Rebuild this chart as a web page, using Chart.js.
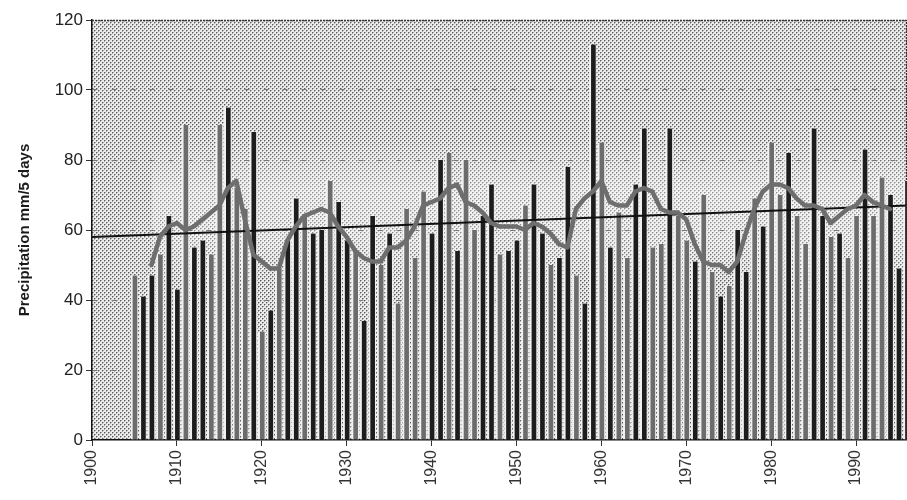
<!DOCTYPE html>
<html>
<head>
<meta charset="utf-8">
<script src="https://cdn.jsdelivr.net/npm/chart.js@4/dist/chart.umd.min.js"></script>
<style>
  html, body { margin: 0; padding: 0; background: #ffffff; }
  #wrap { width: 907px; height: 500px; }
</style>
</head>
<body>
<div id="wrap"><canvas id="chart" width="907" height="500"></canvas></div>
<script>
// Annual maximum 5-day precipitation (mm), one bar per year
const years = [
  1905, 1906, 1907, 1908, 1909, 1910, 1911, 1912, 1913, 1914,
  1915, 1916, 1917, 1918, 1919, 1920, 1921, 1922, 1923, 1924,
  1925, 1926, 1927, 1928, 1929, 1930, 1931, 1932, 1933, 1934,
  1935, 1936, 1937, 1938, 1939, 1940, 1941, 1942, 1943, 1944,
  1945, 1946, 1947, 1948, 1949, 1950, 1951, 1952, 1953, 1954,
  1955, 1956, 1957, 1958, 1959, 1960, 1961, 1962, 1963, 1964,
  1965, 1966, 1967, 1968, 1969, 1970, 1971, 1972, 1973, 1974,
  1975, 1976, 1977, 1978, 1979, 1980, 1981, 1982, 1983, 1984,
  1985, 1986, 1987, 1988, 1989, 1990, 1991, 1992, 1993, 1994,
  1995, 1996
];
const precip = [
  47, 41, 47, 53, 64, 43, 90, 55, 57, 53,
  90, 95, 72, 66, 88, 31, 37, 49, 57, 69,
  64, 59, 60, 74, 68, 57, 54, 34, 64, 50,
  59, 39, 66, 52, 71, 59, 80, 82, 54, 80,
  60, 64, 73, 53, 54, 57, 67, 73, 59, 50,
  52, 78, 47, 39, 113, 85, 55, 65, 52, 73,
  89, 55, 56, 89, 64, 57, 51, 70, 48, 41,
  44, 60, 48, 69, 61, 85, 70, 82, 64, 56,
  89, 64, 58, 59, 52, 64, 83, 64, 75, 70,
  49, 74
];

// Running mean of the annual maxima
const meanYears = [
  1907, 1908, 1909, 1910, 1911, 1912, 1913, 1914, 1915, 1916,
  1917, 1918, 1919, 1920, 1921, 1922, 1923, 1924, 1925, 1926,
  1927, 1928, 1929, 1930, 1931, 1932, 1933, 1934, 1935, 1936,
  1937, 1938, 1939, 1940, 1941, 1942, 1943, 1944, 1945, 1946,
  1947, 1948, 1949, 1950, 1951, 1952, 1953, 1954, 1955, 1956,
  1957, 1958, 1959, 1960, 1961, 1962, 1963, 1964, 1965, 1966,
  1967, 1968, 1969, 1970, 1971, 1972, 1973, 1974, 1975, 1976,
  1977, 1978, 1979, 1980, 1981, 1982, 1983, 1984, 1985, 1986,
  1987, 1988, 1989, 1990, 1991, 1992, 1993, 1994
];
const runningMean = [
  50, 58, 61, 62, 60, 61, 63, 65, 67, 72,
  74, 63, 53, 51, 49, 49, 57, 61, 64, 65,
  66, 65, 61, 58, 54, 52, 51, 51, 55, 55,
  57, 61, 67, 68, 69, 72, 73, 68, 67, 65,
  62, 61, 61, 61, 60, 62, 61, 59, 56, 55,
  66, 69, 71, 74, 68, 67, 67, 71, 72, 71,
  66, 65, 65, 63, 56, 51, 50, 50, 48, 51,
  59, 66, 71, 73, 73, 72, 69, 67, 67, 66,
  62, 64, 66, 67, 70, 68, 67, 66
];

// Linear trend, end points
const trendYears = [1900, 1996];
const trendValues = [58, 67];

// Axis ticks
const yTicks = [0, 20, 40, 60, 80, 100, 120];
const xTickYears = [1900, 1910, 1920, 1930, 1940, 1950, 1960, 1970, 1980, 1990];

// Print shade of each bar: k = black, g = grey
const barShades =
  'gkkgkkgkkg' + 'gkggkgkgkk' + 'gkkgkkgkkg' + 'kgggg' + 'kkgkg' +
  'gkkgkkgkkg' + 'kkgkkgkggk' + 'kggkgg' + 'kgg' + 'kgkkgkgg' +
  'kggkkgkggk' + 'gg';
const shadeColour = { k: '#1d1d1d', g: '#6c6c6c' };

const toPoints = (xs, ys) => xs.map((x, i) => ({ x: x, y: ys[i] }));

// Halftone-like dotted fill behind the plot
function makeStipple() {
  const t = document.createElement('canvas');
  t.width = 4; t.height = 4;
  const g = t.getContext('2d');
  g.fillStyle = '#ebebeb';
  g.fillRect(0, 0, 4, 4);
  g.fillStyle = '#a9a9a9';
  [[1, 0], [0, 1], [3, 2], [2, 3]].forEach(p => g.fillRect(p[0], p[1], 1, 1));
  g.fillStyle = '#5a5a5a';
  g.fillRect(0, 0, 1, 1);
  g.fillRect(2, 2, 1, 1);
  return t;
}

const plotBackground = {
  id: 'plotBackground',
  beforeDraw(chart) {
    const { ctx, chartArea: a } = chart;
    ctx.save();
    ctx.fillStyle = ctx.createPattern(makeStipple(), 'repeat');
    ctx.fillRect(a.left, a.top, a.right - a.left, a.bottom - a.top);
    // lighter band across the middle of the plot
    const gr = ctx.createLinearGradient(0, 140, 0, 280);
    gr.addColorStop(0, 'rgba(255,255,255,0)');
    gr.addColorStop(0.35, 'rgba(255,255,255,0.35)');
    gr.addColorStop(0.7, 'rgba(255,255,255,0.3)');
    gr.addColorStop(1, 'rgba(255,255,255,0)');
    ctx.fillStyle = gr;
    ctx.fillRect(a.left + 60, 140, a.right - a.left - 60, 140);
    ctx.restore();
  },
  afterDraw(chart) {
    const { ctx, chartArea: a } = chart;
    ctx.save();
    ctx.strokeStyle = '#333';
    ctx.lineWidth = 1.5;
    ctx.setLineDash([2, 1]);
    ctx.beginPath();
    ctx.moveTo(a.left, a.top + 0.5);
    ctx.lineTo(a.right - 0.5, a.top + 0.5);
    ctx.lineTo(a.right - 0.5, a.bottom);
    ctx.stroke();
    ctx.restore();
  }
};

const fontFamily = '"Liberation Sans", Arial, Helvetica, sans-serif';

new Chart(document.getElementById('chart'), {
  type: 'bar',
  data: {
    datasets: [
      {
        type: 'line',
        label: 'Running mean',
        data: toPoints(meanYears, runningMean),
        borderColor: '#6e6e6e',
        borderWidth: 4.5,
        pointRadius: 0,
        tension: 0,
        borderJoinStyle: 'round',
        borderCapStyle: 'round',
        order: 1
      },
      {
        type: 'line',
        label: 'Trend',
        data: toPoints(trendYears, trendValues),
        borderColor: '#111111',
        borderWidth: 2,
        pointRadius: 0,
        order: 2
      },
      {
        type: 'bar',
        label: 'Max 5-day precipitation',
        data: toPoints(years, precip),
        backgroundColor: years.map((y, i) => shadeColour[barShades[i]] || shadeColour.k),
        borderColor: '#f0f0f0',
        borderWidth: { left: 2, right: 1, top: 0, bottom: 0 },
        borderSkipped: false,
        barThickness: 7,
        order: 3
      }
    ]
  },
  options: {
    responsive: false,
    animation: false,
    layout: { padding: { top: 20, right: 0, bottom: 0, left: 0 } },
    plugins: {
      legend: { display: false },
      tooltip: { enabled: false }
    },
    scales: {
      x: {
        type: 'linear',
        min: 1900,
        max: 1996,
        offset: false,
        afterBuildTicks: s => { s.ticks = xTickYears.map(v => ({ value: v })); },
        afterFit: s => { s.height = 60; },
        ticks: {
          autoSkip: false,
          minRotation: 90,
          maxRotation: 90,
          padding: 4,
          color: '#333',
          font: { family: fontFamily, size: 16 },
          callback: v => String(v)
        },
        grid: {
          offset: false,
          drawOnChartArea: false,
          drawTicks: true,
          tickLength: 6,
          tickColor: '#333',
          tickWidth: 1
        },
        border: { display: true, color: '#111', width: 1.5 }
      },
      y: {
        min: 0,
        max: 120,
        afterBuildTicks: s => { s.ticks = yTicks.map(v => ({ value: v })); },
        afterFit: s => { s.width = 92; },
        ticks: {
          padding: 3,
          color: '#222',
          font: { family: fontFamily, size: 17 }
        },
        grid: {
          color: c => (c.tick && (c.tick.value === 0 || c.tick.value === 120)) ? 'rgba(0,0,0,0)' : '#777777',
          lineWidth: 1,
          drawTicks: true,
          tickLength: 6,
          tickColor: '#333',
          tickBorderDash: []
        },
        border: { display: true, color: '#111', width: 1.5, dash: [5, 14] },
        title: {
          display: true,
          text: 'Precipitation mm/5 days',
          color: '#1a1a1a',
          font: { family: fontFamily, size: 15, weight: 'bold' },
          padding: { top: 16, bottom: 0 }
        }
      }
    }
  },
  plugins: [plotBackground]
});
</script>
</body>
</html>
